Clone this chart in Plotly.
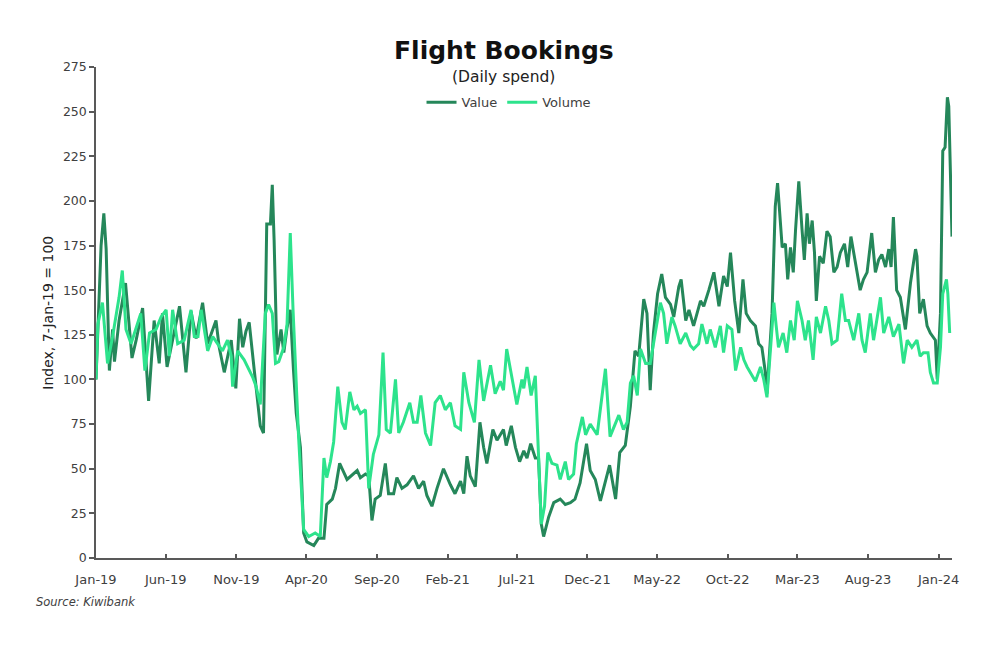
import pandas as pd
import plotly.graph_objects as go

BASE_DATE = "2019-01-07"

# Days since 7-Jan-19 and index levels
value_days = [0, 8, 11, 17, 22, 29, 36, 40, 50, 64, 78, 87, 101, 114, 126, 137, 144, 154, 181, 195,
              206, 217, 231, 242, 260, 267, 278, 293, 303, 311, 318, 325, 332, 343, 356, 363, 370, 378, 382, 386, 392, 401,
              407, 414, 421, 428, 434, 443, 450, 457, 472, 482, 494, 500, 512, 519, 528, 537, 544, 566, 573, 584,
              591, 598, 605, 616, 627, 634, 645, 652, 663, 674, 688, 699, 710, 717, 728, 739, 753, 768, 778, 790,
              797, 804, 811, 822, 832, 840, 847, 860, 869, 883, 889, 900, 909, 918, 927, 934, 942, 952, 959, 965,
              970, 981, 992, 1006, 1017, 1028, 1038, 1049, 1063, 1071, 1082, 1093, 1103, 1113, 1126, 1135, 1147, 1158, 1168, 1176,
              1187, 1194, 1201, 1208, 1217, 1226, 1234, 1245, 1252, 1263, 1268, 1278, 1285, 1295, 1310, 1317, 1328, 1339, 1350, 1360,
              1368, 1375, 1384, 1393, 1402, 1409, 1418, 1429, 1436, 1443, 1450, 1454, 1465, 1472, 1477, 1483, 1487, 1494, 1499, 1505,
              1511, 1516, 1523, 1530, 1535, 1541, 1546, 1552, 1557, 1561, 1568, 1576, 1584, 1591, 1599, 1606, 1613, 1622, 1629, 1636,
              1642, 1649, 1656, 1663, 1671, 1681, 1689, 1696, 1703, 1711, 1718, 1723, 1728, 1735, 1743, 1754, 1765, 1776, 1779, 1785,
              1793, 1801, 1808, 1819, 1823, 1830, 1835, 1840, 1845, 1848, 1852, 1855]
value_idx = [100, 150, 175, 193, 173, 105, 128, 110, 133, 154, 112, 122, 140, 88, 133, 109, 137, 107, 141, 104,
             138, 123, 143, 120, 133, 118, 104, 122, 95, 134, 118, 127, 132, 105, 74, 70, 187, 187, 209, 178, 114, 128,
             115, 129, 139, 105, 81, 62, 14, 9, 7, 11, 11, 30, 33, 39, 53, 48, 44, 49, 45, 47,
             46, 21, 33, 35, 53, 36, 36, 45, 39, 41, 46, 39, 43, 35, 29, 39, 50, 41, 36, 43,
             36, 57, 46, 40, 76, 62, 53, 72, 66, 72, 63, 74, 62, 54, 60, 56, 64, 56, 56, 19,
             12, 23, 31, 33, 30, 31, 33, 42, 64, 49, 44, 32, 42, 52, 33, 59, 63, 85, 116, 113,
             145, 137, 94, 126, 148, 159, 146, 142, 135, 152, 156, 133, 139, 130, 144, 141, 150, 160, 141, 158,
             152, 171, 144, 126, 156, 137, 133, 130, 120, 118, 105, 92, 137, 197, 210, 189, 174, 176, 156, 174,
             160, 184, 211, 184, 167, 193, 176, 189, 171, 144, 169, 165, 183, 180, 160, 163, 171, 176, 163, 180,
             171, 160, 150, 156, 160, 182, 160, 167, 170, 163, 173, 163, 191, 150, 146, 128, 154, 173, 169, 137,
             145, 130, 126, 122, 100, 137, 228, 230, 258, 253, 199, 180]

volume_days = [0, 4, 14, 25, 36, 43, 50, 57, 65, 76, 87, 97, 106, 116, 130, 141, 152, 159, 166, 177,
               191, 206, 213, 221, 228, 242, 253, 263, 274, 285, 293, 296, 307, 321, 333, 340, 347, 356, 367, 374,
               382, 389, 396, 407, 414, 421, 427, 432, 439, 450, 461, 475, 486, 494, 500, 508, 515, 524, 533, 540,
               550, 559, 566, 573, 584, 591, 601, 613, 622, 629, 638, 649, 656, 666, 680, 688, 696, 704, 714, 725,
               735, 746, 757, 768, 778, 790, 797, 808, 820, 830, 840, 855, 865, 876, 883, 890, 902, 912, 923, 927,
               934, 943, 952, 959, 965, 972, 979, 988, 999, 1006, 1017, 1024, 1035, 1041, 1054, 1061, 1071, 1086, 1104, 1114,
               1133, 1143, 1151, 1158, 1165, 1173, 1180, 1191, 1201, 1212, 1223, 1230, 1237, 1248, 1255, 1266, 1278, 1288, 1295, 1306,
               1313, 1324, 1331, 1342, 1353, 1360, 1368, 1378, 1386, 1397, 1404, 1411, 1418, 1429, 1440, 1447, 1454, 1462, 1469, 1474,
               1479, 1489, 1497, 1505, 1513, 1520, 1530, 1537, 1544, 1554, 1561, 1570, 1581, 1588, 1595, 1606, 1616, 1624, 1631, 1642,
               1653, 1660, 1667, 1678, 1685, 1700, 1707, 1718, 1728, 1740, 1750, 1758, 1768, 1779, 1786, 1793, 1803, 1808, 1815, 1823,
               1830, 1835, 1843, 1846, 1850]
volume_idx = [100, 131, 143, 109, 124, 135, 146, 161, 128, 120, 129, 137, 105, 126, 128, 135, 139, 113, 139, 120,
              122, 139, 124, 124, 139, 116, 124, 120, 116, 122, 113, 96, 116, 111, 105, 101, 96, 86, 137, 142,
              137, 109, 110, 118, 131, 182, 139, 105, 68, 16, 12, 14, 12, 56, 45, 54, 65, 96, 76, 72,
              93, 83, 85, 81, 83, 39, 58, 69, 115, 72, 70, 100, 70, 76, 87, 76, 76, 91, 70, 63,
              87, 91, 83, 87, 74, 72, 104, 87, 76, 111, 88, 108, 92, 99, 94, 117, 100, 86, 100, 95,
              107, 91, 102, 51, 19, 29, 59, 53, 52, 44, 54, 44, 47, 64, 79, 69, 75, 69, 106, 68,
              80, 72, 76, 98, 102, 91, 117, 109, 109, 126, 143, 137, 120, 135, 130, 120, 126, 119, 117, 120,
              131, 120, 128, 118, 130, 115, 130, 128, 105, 118, 111, 107, 104, 99, 107, 100, 90, 118, 143, 130,
              118, 126, 115, 133, 122, 144, 133, 122, 133, 111, 135, 126, 141, 133, 120, 122, 148, 133, 133, 122,
              137, 122, 115, 137, 122, 146, 126, 135, 124, 131, 109, 122, 118, 122, 113, 115, 115, 104, 98, 98,
              118, 148, 156, 148, 126]

tick_dates = ["2019-01-07", "2019-06-07", "2019-11-07", "2020-04-07", "2020-09-07", "2021-02-07",
              "2021-07-07", "2021-12-07", "2022-05-07", "2022-10-07", "2023-03-07", "2023-08-07", "2024-01-07"]
tick_labels = ["Jan-19", "Jun-19", "Nov-19", "Apr-20", "Sep-20", "Feb-21", "Jul-21",
               "Dec-21", "May-22", "Oct-22", "Mar-23", "Aug-23", "Jan-24"]
y_ticks = [0, 25, 50, 75, 100, 125, 150, 175, 200, 225, 250, 275]

base = pd.Timestamp(BASE_DATE)
value_dates = base + pd.to_timedelta(value_days, unit="D")
volume_dates = base + pd.to_timedelta(volume_days, unit="D")

FONT = "DejaVu Sans"
TXT = "#404040"

fig = go.Figure()
fig.add_trace(go.Scatter(x=value_dates, y=value_idx, mode="lines", name="Value",
                         line=dict(color="#25875A", width=3)))
fig.add_trace(go.Scatter(x=volume_dates, y=volume_idx, mode="lines", name="Volume",
                         line=dict(color="#2DE38C", width=3)))

fig.update_layout(
    width=1000, height=664,
    margin=dict(l=96, r=48, t=67, b=106),
    paper_bgcolor="white", plot_bgcolor="white",
    font=dict(family=FONT, color=TXT, size=12),
    showlegend=True,
    legend=dict(orientation="h", x=0.4825, xanchor="center", y=0.928, yanchor="middle",
                font=dict(size=13, color=TXT), bgcolor="rgba(0,0,0,0)", itemwidth=30),
    xaxis=dict(type="date", range=["2019-01-07", "2024-02-05"],
               tickmode="array", tickvals=tick_dates, ticktext=tick_labels,
               showgrid=False, zeroline=False, showline=True, linecolor="#595959", linewidth=2,
               ticks="inside", ticklen=4, tickcolor="#595959", tickwidth=1.5,
               ticklabelstandoff=8,
               tickfont=dict(size=13, color=TXT)),
    yaxis=dict(range=[0, 275], tickmode="array", tickvals=y_ticks,
               showgrid=False, zeroline=False, showline=True, linecolor="#595959", linewidth=1.5,
               ticks="outside", ticklen=5, tickcolor="#595959", tickwidth=1.5,
               tickfont=dict(size=12.5, color=TXT)),
    annotations=[
        dict(text="<b>Flight Bookings</b>", x=0.4766, y=1.0346, xref="paper", yref="paper",
             xanchor="center", yanchor="middle", showarrow=False,
             font=dict(size=25, color="#111111", family=FONT)),
        dict(text="(Daily spend)", x=0.4766, y=0.98, xref="paper", yref="paper",
             xanchor="center", yanchor="middle", showarrow=False,
             font=dict(size=15.5, color="#222222", family=FONT)),
        dict(text="Index, 7-Jan-19 = 100", x=-0.057, y=0.5, xref="paper", yref="paper",
             xanchor="center", yanchor="middle", showarrow=False, textangle=-90,
             font=dict(size=14, color="#222222", family=FONT)),
        dict(text="<i>Source: Kiwibank</i>", x=-0.072, y=-0.0896, xref="paper", yref="paper",
             xanchor="left", yanchor="middle", showarrow=False,
             font=dict(size=11.5, color=TXT, family=FONT)),
    ],
)

fig.write_html("out.html")
